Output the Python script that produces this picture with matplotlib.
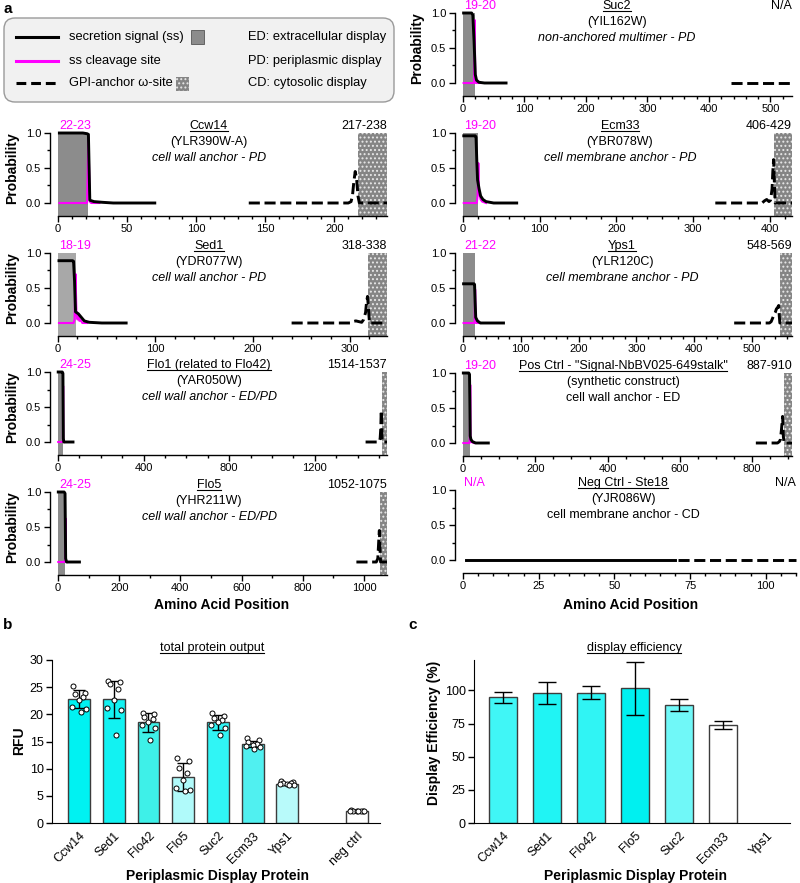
import numpy as np
import matplotlib
matplotlib.use('Agg')
from matplotlib import pyplot as plt
from matplotlib import transforms
from matplotlib.patches import FancyBboxPatch, Rectangle
from matplotlib.lines import Line2D
from matplotlib.ticker import MultipleLocator, FixedLocator

plt.rcParams['font.family'] = ['Liberation Sans', 'DejaVu Sans']
plt.rcParams['hatch.linewidth'] = 0.9

W, H = 800, 883
MAG = '#ff00ff'
GPI_GRAY = '#858585'

#%% data: SignalP / GPI prediction profiles
ccw14 = dict(name='Ccw14', sysid='(YLR390W-A)', desc='cell wall anchor - PD', length=238,
             sp=22, cs_lab='22-23', gpi_lab='217-238', gpi=(217, 238),
             sig_x=[1, 18, 21, 22, 23, 26, 32, 40, 70], sig_y=[1.0, 1.0, 0.99, 0.98, 0.04, 0.02, 0.01, 0.0, 0.0],
             cs_x=[1, 21, 22, 23, 24, 30], cs_y=[0, 0, 0.95, 0.02, 0, 0],
             gpi_x=[138, 210, 212, 213, 214, 215, 216, 217, 218, 238],
             gpi_y=[0, 0, 0.02, 0.1, 0.3, 0.45, 0.35, 0.1, 0, 0])
sed1 = dict(name='Sed1', sysid='(YDR077W)', desc='cell wall anchor - PD', length=338,
            sp=18, cs_lab='18-19', gpi_lab='318-338', gpi=(318, 338),
            sig_x=[1, 15, 16, 17, 18, 21, 24, 27, 32, 45, 70],
            sig_y=[0.89, 0.89, 0.88, 0.6, 0.16, 0.13, 0.08, 0.03, 0.01, 0.0, 0.0],
            cs_x=[1, 16, 17, 18, 19, 20, 21, 22, 23, 25, 30],
            cs_y=[0, 0, 0.05, 0.7, 0.12, 0.05, 0.1, 0.03, 0.05, 0, 0],
            gpi_x=[240, 300, 303, 306, 309, 312, 314, 316, 317, 318, 319, 320, 338],
            gpi_y=[0, 0, 0.02, 0.03, 0.02, 0.01, 0.05, 0.15, 0.3, 0.38, 0.2, 0, 0])
flo1 = dict(name='Flo1 (related to Flo42)', sysid='(YAR050W)', desc='cell wall anchor - ED/PD', length=1537,
            sp=24, cs_lab='24-25', gpi_lab='1514-1537', gpi=(1514, 1537),
            sig_x=[1, 20, 23, 25, 27, 70], sig_y=[1.0, 1.0, 0.98, 0.05, 0.0, 0.0],
            cs_x=[1, 23, 24, 25, 30], cs_y=[0, 0, 0.8, 0.02, 0],
            gpi_x=[1437, 1500, 1505, 1508, 1510, 1512, 1514, 1516, 1537],
            gpi_y=[0, 0, 0.05, 0.2, 0.45, 0.3, 0.02, 0, 0])
flo5 = dict(name='Flo5', sysid='(YHR211W)', desc='cell wall anchor - ED/PD', length=1075,
            sp=24, cs_lab='24-25', gpi_lab='1052-1075', gpi=(1052, 1075),
            sig_x=[1, 20, 23, 25, 28, 70], sig_y=[1.0, 1.0, 0.98, 0.05, 0.0, 0.0],
            cs_x=[1, 24, 25, 26, 30], cs_y=[0, 0, 0.62, 0.02, 0],
            gpi_x=[975, 1040, 1045, 1048, 1050, 1052, 1054, 1075],
            gpi_y=[0, 0, 0.05, 0.3, 0.45, 0.2, 0, 0])
suc2 = dict(name='Suc2', sysid='(YIL162W)', desc='non-anchored multimer - PD', length=535,
            sp=19, cs_lab='19-20', gpi_lab='N/A', gpi=None,
            sig_x=[1, 14, 16, 18, 20, 22, 26, 35, 70], sig_y=[1.0, 1.0, 0.97, 0.6, 0.12, 0.04, 0.01, 0.0, 0.0],
            cs_x=[1, 18, 19, 20, 21, 30], cs_y=[0, 0, 0.9, 0.02, 0, 0],
            gpi_x=[435, 535], gpi_y=[0, 0])
ecm33 = dict(name='Ecm33', sysid='(YBR078W)', desc='cell membrane anchor - PD', length=429,
             sp=19, cs_lab='19-20', gpi_lab='406-429', gpi=(406, 429),
             sig_x=[1, 16, 17, 18, 19, 21, 23, 26, 30, 40, 70],
             sig_y=[0.96, 0.96, 0.94, 0.6, 0.33, 0.2, 0.1, 0.05, 0.02, 0.0, 0.0],
             cs_x=[1, 18, 19, 20, 21, 22, 23, 25, 30], cs_y=[0, 0, 0.1, 0.57, 0.15, 0.1, 0.05, 0.02, 0],
             gpi_x=[329, 390, 393, 396, 399, 401, 403, 404, 405, 406, 407, 429],
             gpi_y=[0, 0, 0.03, 0.05, 0.02, 0.04, 0.2, 0.45, 0.62, 0.3, 0, 0])
yps1 = dict(name='Yps1', sysid='(YLR120C)', desc='cell membrane anchor - PD', length=569,
            sp=21, cs_lab='21-22', gpi_lab='548-569', gpi=(548, 569),
            sig_x=[1, 19, 20, 21, 22, 25, 30, 70], sig_y=[0.56, 0.56, 0.55, 0.3, 0.08, 0.03, 0.0, 0.0],
            cs_x=[1, 20, 21, 22, 23, 30], cs_y=[0, 0, 0.48, 0.05, 0, 0],
            gpi_x=[469, 530, 533, 536, 538, 540, 542, 544, 546, 547, 548, 569],
            gpi_y=[0, 0, 0.02, 0.08, 0.12, 0.15, 0.2, 0.22, 0.25, 0.1, 0, 0])
pos_ctrl = dict(name='Pos Ctrl - "Signal-NbBV025-649stalk"', sysid='(synthetic construct)',
                desc='cell wall anchor - ED', length=910,
                sp=19, cs_lab='19-20', gpi_lab='887-910', gpi=(887, 910),
                sig_x=[1, 16, 18, 19, 20, 22, 26, 35, 70], sig_y=[1.0, 1.0, 0.98, 0.6, 0.1, 0.05, 0.02, 0.0, 0.0],
                cs_x=[1, 18, 19, 20, 21, 30], cs_y=[0, 0, 0.1, 0.83, 0.02, 0],
                gpi_x=[810, 870, 875, 878, 881, 884, 886, 887, 888, 910],
                gpi_y=[0, 0, 0.02, 0.05, 0.2, 0.38, 0.1, 0.05, 0, 0])
neg_ctrl = dict(name='Neg Ctrl - Ste18', sysid='(YJR086W)', desc='cell membrane anchor - CD', length=110,
                sp=None, cs_lab='N/A', gpi_lab='N/A', gpi=None,
                sig_x=[1, 70], sig_y=[0, 0], cs_x=None, cs_y=None,
                gpi_x=[71, 110], gpi_y=[0, 0])

#%% data: bar charts
b_names = ['Ccw14', 'Sed1', 'Flo42', 'Flo5', 'Suc2', 'Ecm33', 'Yps1', 'neg ctrl']
b_slots = [0, 1, 2, 3, 4, 5, 6, 8]
b_mean = [22.8, 22.8, 18.5, 8.4, 18.5, 14.5, 7.2, 2.3]
b_sd = [1.6, 3.4, 1.7, 2.6, 1.3, 0.6, 0.2, 0.1]
b_points = [[25.2, 24.0, 23.8, 23.2, 22.6, 21.4, 21.0, 20.5],
            [26.2, 26.0, 25.5, 24.6, 22.6, 21.1, 20.8, 16.2],
            [20.2, 20.1, 19.6, 19.2, 18.6, 18.0, 17.4, 15.2],
            [12.0, 11.4, 10.2, 9.2, 8.0, 6.4, 6.0, 5.8],
            [20.2, 19.7, 19.3, 18.9, 18.6, 18.1, 17.5, 16.2],
            [15.6, 15.2, 14.9, 14.6, 14.4, 14.2, 13.9, 13.7],
            [7.8, 7.6, 7.4, 7.3, 7.2, 7.1, 7.0, 7.0],
            [2.4, 2.3, 2.3, 2.3, 2.3, 2.2, 2.2, 2.2]]
b_colors = ['#00f2f2', '#12f2f2', '#3ef0e8', '#b0fafa', '#30f5f5', '#50f0f0', '#b8fafa', 'white']

c_names = ['Ccw14', 'Sed1', 'Flo42', 'Flo5', 'Suc2', 'Ecm33', 'Yps1']
c_mean = [95.0, 98.0, 98.2, 101.8, 89.0, 73.9, np.nan]
c_sd = [4.1, 8.4, 5.0, 20.0, 4.2, 2.9, np.nan]
c_colors = ['#40f6f6', '#20f4f4', '#30f4f4', '#00f0f0', '#70f8f8', 'white', 'white']

#%% figure
fig = plt.figure(figsize=(W / 100, H / 100), dpi=100)
PX = transforms.Affine2D().scale(1.0 / W, -1.0 / H).translate(0, 1) + fig.transFigure
underlined = []


def px_axes(x0, y0, x1, y1):
    return fig.add_axes([x0 / W, 1 - y1 / H, (x1 - x0) / W, (y1 - y0) / H])


def txt(x, y, s, **kw):
    kw.setdefault('ha', 'center')
    kw.setdefault('va', 'center')
    return fig.text(x, y, s, transform=PX, **kw)


def profile_panel(p, x0, x1, top, major, minor, cx, sp_color='#8c8c8c', ylab=False, italic=True):
    ax = px_axes(x0, top, x1, top + 70 * 1.18)
    ax.set_xlim(0, p['length'])
    ax.set_ylim(-0.18, 1.0)
    if p['sp']:
        ax.axvspan(0, p['sp'], color=sp_color, lw=0, zorder=0)
    if p['gpi']:
        ax.axvspan(p['gpi'][0], p['gpi'][1], facecolor=GPI_GRAY, edgecolor='#e8e8e8',
                   hatch='....', lw=0, zorder=0)
    if p['cs_x']:
        ax.plot(p['cs_x'], p['cs_y'], color=MAG, lw=1.5, clip_on=False, zorder=2)
    ax.plot(p['sig_x'], p['sig_y'], color='black', lw=2.1, clip_on=False, zorder=3)
    ax.plot(p['gpi_x'], p['gpi_y'], color='black', lw=2.1, dashes=(3.8, 1.6), clip_on=False, zorder=3)

    for s in ['top', 'right']:
        ax.spines[s].set_visible(False)
    ax.spines['left'].set_position(('outward', 6))
    ax.spines['left'].set_bounds(0, 1)
    ax.set_yticks([0, 0.5, 1.0])
    ax.set_yticklabels(['0.0', '0.5', '1.0'])
    ax.yaxis.set_minor_locator(FixedLocator([0.25, 0.75]))
    ax.xaxis.set_major_locator(MultipleLocator(major))
    ax.xaxis.set_minor_locator(MultipleLocator(minor))
    ax.tick_params(which='major', length=4, width=1, labelsize=8, pad=2)
    ax.tick_params(which='minor', length=2.5, width=1)
    for s in ['left', 'bottom']:
        ax.spines[s].set_linewidth(1)

    underlined.append(txt(cx, top - 7, p['name'], fontsize=9))
    txt(cx, top + 9, p['sysid'], fontsize=9)
    txt(cx, top + 25, p['desc'], fontsize=9, style='italic' if italic else 'normal')
    txt(x0 + 1, top - 7, p['cs_lab'], fontsize=9, color=MAG, ha='left')
    txt(x1, top - 7, p['gpi_lab'], fontsize=9, ha='right')
    if ylab:
        txt(x0 - 46, top + 35, 'Probability', fontsize=10, fontweight='bold', rotation=90)
    return ax


# left column
profile_panel(ccw14, 58, 387, 133, 50, 10, 209, ylab=True)
profile_panel(sed1, 58, 387, 253, 100, 20, 209, sp_color='#a8a8a8', ylab=True)
profile_panel(flo1, 58, 387, 372, 400, 100, 209, ylab=True)
profile_panel(flo5, 58, 387, 492, 200, 100, 209, ylab=True)
txt(222, 605, 'Amino Acid Position', fontsize=10, fontweight='bold')

# right column
profile_panel(suc2, 463, 792, 13, 100, 20, 617, ylab=True)
profile_panel(ecm33, 463, 792, 133, 100, 20, 620)
profile_panel(yps1, 463, 792, 253, 100, 20, 622)
profile_panel(pos_ctrl, 463, 792, 373, 200, 50, 623, italic=False)
profile_panel(neg_ctrl, 463, 796, 490, 25, 5, 623, italic=False)
txt(631, 605, 'Amino Acid Position', fontsize=10, fontweight='bold')

# legend box
fig.add_artist(FancyBboxPatch((4, 18), 390, 84, boxstyle='round,pad=0,rounding_size=11',
                              facecolor='#f1f1f1', edgecolor='#9a9a9a', lw=1, transform=PX))
fig.add_artist(Line2D([16, 58], [37, 37], color='black', lw=2.2, transform=PX))
fig.add_artist(Line2D([16, 58], [61, 61], color=MAG, lw=2.2, transform=PX))
fig.add_artist(Line2D([16, 58], [83, 83], color='black', lw=2.2, dashes=(3.2, 1.6), transform=PX))
txt(69, 37, 'secretion signal (ss)', fontsize=9.3, ha='left')
txt(69, 61, 'ss cleavage site', fontsize=9.3, ha='left')
txt(69, 83, 'GPI-anchor ω-site', fontsize=9.3, ha='left')
fig.add_artist(Rectangle((191, 30), 13, 14, facecolor='#8c8c8c', edgecolor='#555555', lw=0.6, transform=PX))
fig.add_artist(Rectangle((176, 77), 13, 14, facecolor=GPI_GRAY, edgecolor='#e8e8e8', hatch='....',
                         lw=0, transform=PX))
txt(248, 37, 'ED: extracellular display', fontsize=9.3, ha='left')
txt(248, 61, 'PD: periplasmic display', fontsize=9.3, ha='left')
txt(248, 83, 'CD: cytosolic display', fontsize=9.3, ha='left')

# panel letters
txt(3, 9, 'a', fontsize=11, fontweight='bold', ha='left')
txt(3, 625, 'b', fontsize=11, fontweight='bold', ha='left')
txt(408, 625, 'c', fontsize=11, fontweight='bold', ha='left')

#%% b: total protein output
jitter = [-0.17, 0.17, -0.12, 0.12, 0.0, -0.2, 0.2, 0.05]
axb = px_axes(52, 660, 380, 823)
axb.bar(b_slots, b_mean, width=0.63, color=b_colors, edgecolor='#3c3c3c', lw=1, zorder=2)
axb.errorbar(b_slots, b_mean, yerr=b_sd, fmt='none', ecolor='black', elinewidth=1,
             capsize=4.5, capthick=1, zorder=3)
for i, pts in enumerate(b_points):
    axb.scatter(b_slots[i] + np.array(jitter), pts, s=13, facecolor='white', edgecolor='black',
                lw=0.7, zorder=4, clip_on=False)
axb.set_xlim(-0.78, 8.67)
axb.set_ylim(0, 30)
axb.set_yticks(np.arange(0, 31, 5))
axb.set_xticks(b_slots)
axb.set_xticklabels(b_names, rotation=45, ha='right', rotation_mode='anchor')
axb.tick_params(axis='y', labelsize=9, length=4, width=1, pad=2)
axb.tick_params(axis='x', labelsize=9, length=0, pad=5)
axb.spines['top'].set_visible(False)
axb.spines['right'].set_visible(False)
underlined.append(txt(212, 648, 'total protein output', fontsize=9))
txt(19, 741, 'RFU', fontsize=10, fontweight='bold', rotation=90)
txt(217, 876, 'Periplasmic Display Protein', fontsize=10, fontweight='bold')

#%% c: display efficiency
axc = px_axes(474, 660, 790, 823)
axc.bar(range(len(c_names)), c_mean, width=0.64, color=c_colors, edgecolor='#3c3c3c', lw=1, zorder=2)
axc.errorbar(range(len(c_names)), c_mean, yerr=c_sd, fmt='none', ecolor='black', elinewidth=1,
             capsize=6.5, capthick=1, zorder=3)
axc.set_xlim(-0.66, 6.52)
axc.set_ylim(0, 123)
axc.set_yticks([0, 25, 50, 75, 100])
axc.set_xticks(range(len(c_names)))
axc.set_xticklabels(c_names, rotation=45, ha='right', rotation_mode='anchor')
axc.tick_params(axis='y', labelsize=9, length=4, width=1, pad=2)
axc.tick_params(axis='x', labelsize=9, length=0, pad=5)
axc.spines['top'].set_visible(False)
axc.spines['right'].set_visible(False)
underlined.append(txt(634, 648, 'display efficiency', fontsize=9))
txt(434, 733, 'Display Efficiency (%)', fontsize=10, fontweight='bold', rotation=90)
txt(635, 876, 'Periplasmic Display Protein', fontsize=10, fontweight='bold')

# underline the titles
fig.canvas.draw()
renderer = fig.canvas.get_renderer()
for t in underlined:
    bb = t.get_window_extent(renderer)
    y = (bb.y0 + 1.5) / H
    fig.add_artist(Line2D([bb.x0 / W, bb.x1 / W], [y, y], color='black', lw=0.8,
                          transform=fig.transFigure))

fig.savefig('out.png', dpi=100)
